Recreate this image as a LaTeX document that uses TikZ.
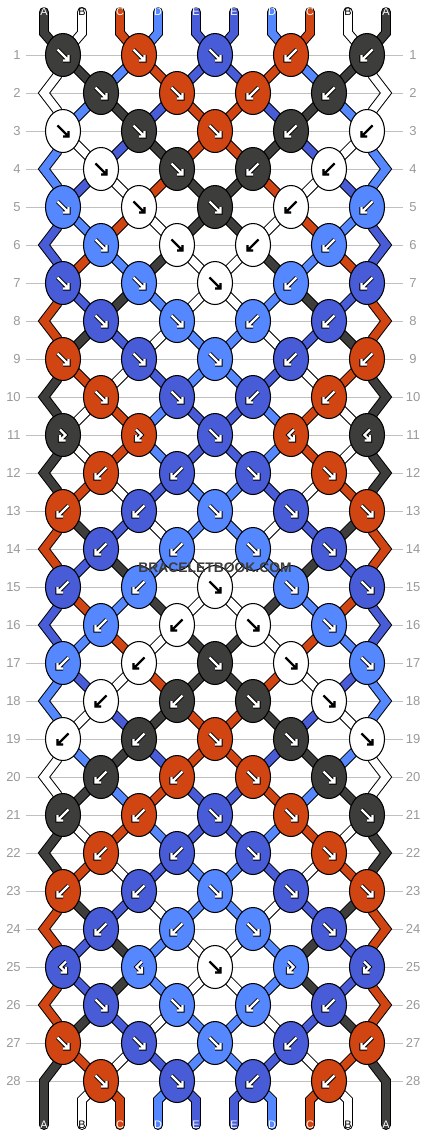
\documentclass[tikz,border=0pt]{standalone}
\usepackage{fontspec}
\setmainfont{Liberation Sans}
\usetikzlibrary{shapes.geometric,calc}

\definecolor{thrk}{HTML}{3D3D3B}
\definecolor{thrw}{HTML}{FFFFFF}
\definecolor{thro}{HTML}{D14512}
\definecolor{thrl}{HTML}{5588FF}
\definecolor{thrb}{HTML}{475CD6}
\definecolor{rowgrey}{HTML}{C0C0C0}
\definecolor{numgrey}{HTML}{999999}

\pgfdeclarelayer{grid}
\pgfdeclarelayer{strands}
\pgfsetlayers{grid,strands,main}

\begin{document}
\begin{tikzpicture}[x=0.02cm, y=-0.02cm,
    knot/.style={draw, ellipse, line width=0.6pt, minimum width=0.7cm, minimum height=0.86cm, inner sep=0pt},
    strand/.style={line width=0.57pt, double=#1, double distance=4.5pt},
    endstrand/.style={strand=#1, line cap=round},
    rownum/.style={text=numgrey, font=\fontsize{7.4pt}{8pt}\selectfont, inner xsep=2.8pt, inner ysep=1pt},
    rowline/.style={draw=rowgrey, line width=0.57pt},
    lbl/.style={font=\fontsize{6.2pt}{7pt}\selectfont, inner sep=0pt},
    wmark/.style={font=\fontsize{7.9pt}{8pt}\selectfont\bfseries, text=thrk}]
  \useasboundingbox (0,0) rectangle (430,1136);

  % row numbers
  \foreach \r in {1,...,28} {
    \node[rownum, anchor=east] (nl-\r) at (26,{55+38*(\r-1)}) {\r};
    \node[rownum] (nr-\r) at (413,{55+38*(\r-1)}) {\r};
    \begin{pgfonlayer}{grid}
      \draw[rowline] (nl-\r.east) -- ($(nr-\r)+(-10,0)$);
    \end{pgfonlayer}
  }

  % edge points
  \foreach \r in {2,4,...,28} {
    \coordinate (e-\r-L) at (44,{55+38*(\r-1)});
    \coordinate (e-\r-R) at (386,{55+38*(\r-1)});
  }

  % knots: colour / first turn / second turn
  \foreach \r/\ks in {
      1/{k/1/1,o/1/1,b/1/1,o/-1/-1,k/-1/-1},
      2/{k/1/1,o/1/1,o/-1/-1,k/-1/-1},
      3/{w/1/1,k/1/1,o/1/1,k/-1/-1,w/-1/-1},
      4/{w/1/1,k/1/1,k/-1/-1,w/-1/-1},
      5/{l/1/1,w/1/1,k/1/1,w/-1/-1,l/-1/-1},
      6/{l/1/1,w/1/1,w/-1/-1,l/-1/-1},
      7/{b/1/1,l/1/1,w/1/1,l/-1/-1,b/-1/-1},
      8/{b/1/1,l/1/1,l/-1/-1,b/-1/-1},
      9/{o/1/1,b/1/1,l/1/1,b/-1/-1,o/-1/-1},
      10/{o/1/1,b/1/1,b/-1/-1,o/-1/-1},
      11/{k/1/-1,o/1/-1,b/1/1,o/-1/1,k/-1/1},
      12/{o/-1/-1,b/-1/-1,b/1/1,o/1/1},
      13/{o/-1/-1,b/-1/-1,l/1/1,b/1/1,o/1/1},
      14/{b/-1/-1,l/-1/-1,l/1/1,b/1/1},
      15/{b/-1/-1,l/-1/-1,w/1/1,l/1/1,b/1/1},
      16/{l/-1/-1,w/-1/-1,w/1/1,l/1/1},
      17/{l/-1/-1,w/-1/-1,k/1/1,w/1/1,l/1/1},
      18/{w/-1/-1,k/-1/-1,k/1/1,w/1/1},
      19/{w/-1/-1,k/-1/-1,o/1/1,k/1/1,w/1/1},
      20/{k/-1/-1,o/-1/-1,o/1/1,k/1/1},
      21/{k/-1/-1,o/-1/-1,b/1/1,o/1/1,k/1/1},
      22/{o/-1/-1,b/-1/-1,b/1/1,o/1/1},
      23/{o/-1/-1,b/-1/-1,l/1/1,b/1/1,o/1/1},
      24/{b/-1/-1,l/-1/-1,l/1/1,b/1/1},
      25/{b/-1/1,l/-1/1,w/1/1,l/1/-1,b/1/-1},
      26/{b/1/1,l/1/1,l/-1/-1,b/-1/-1},
      27/{o/1/1,b/1/1,l/1/1,b/-1/-1,o/-1/-1},
      28/{o/1/1,b/1/1,b/-1/-1,o/-1/-1}} {
    \pgfmathsetmacro{\xo}{isodd(\r) ? 63 : 101}
    \foreach \c/\sa/\sb [count=\j] in \ks {
      \node[knot, fill=thr\c] (k-\r-\j) at ({\xo+76*(\j-1)},{55+38*(\r-1)}) {};
      \pgfmathsetmacro{\ox}{1.25*((\sa)-(\sb))}
      \pgfmathsetmacro{\xa}{\ox-5.5*(\sa)}
      \pgfmathsetmacro{\xc}{\ox+5.5*(\sb)}
      \pgfmathsetmacro{\xh}{\xc-5.5*(\sb)}
      \if\c w\def\ac{black}\def\aw{0.3pt}\def\ad{0.75pt}\else\def\ac{white}\def\aw{0.55pt}\def\ad{1.3pt}\fi
      \draw[line width=\aw, double=\ac, double distance=\ad, shift={(k-\r-\j.center)}]
        (\xa,-5.5) -- (\ox,0) -- (\xc,5.5) (\xh,5.5) -- (\xc,5.5) -- (\xc,0);
    }
  }

  % thread ends
  \foreach \l/\c [count=\p] in {A/k,B/w,C/o,D/l,E/b,E/b,D/l,C/o,B/w,A/k} {
    \if\c w\def\tc{black}\else\def\tc{white}\fi
    \node[lbl, text=\tc] (t-\p) at ({6+38*\p},12) {\l};
    \node[lbl, text=\tc] (u-\p) at ({6+38*\p},1125) {\l};
  }

  \begin{pgfonlayer}{strands}
    % threads between knots
    \foreach \r/\s in {
        1/{w,k,l,o,b,b,o,l,k,w},
        2/{w,l,k,b,o,o,b,k,l,w},
        3/{l,w,b,k,o,o,k,b,w,l},
        4/{l,b,w,o,k,k,o,w,b,l},
        5/{b,l,o,w,k,k,w,o,l,b},
        6/{b,o,l,k,w,w,k,l,o,b},
        7/{o,b,k,l,w,w,l,k,b,o},
        8/{o,k,b,w,l,l,w,b,k,o},
        9/{k,o,w,b,l,l,b,w,o,k},
        10/{k,w,o,l,b,b,l,o,w,k},
        11/{k,w,o,l,b,b,l,o,w,k},
        12/{k,o,w,b,l,l,b,w,o,k},
        13/{o,k,b,w,l,l,w,b,k,o},
        14/{o,b,k,l,w,w,l,k,b,o},
        15/{b,o,l,k,w,w,k,l,o,b},
        16/{b,l,o,w,k,k,w,o,l,b},
        17/{l,b,w,o,k,k,o,w,b,l},
        18/{l,w,b,k,o,o,k,b,w,l},
        19/{w,l,k,b,o,o,b,k,l,w},
        20/{w,k,l,o,b,b,o,l,k,w},
        21/{k,w,o,l,b,b,l,o,w,k},
        22/{k,o,w,b,l,l,b,w,o,k},
        23/{o,k,b,w,l,l,w,b,k,o},
        24/{o,b,k,l,w,w,l,k,b,o},
        25/{o,b,k,l,w,w,l,k,b,o},
        26/{o,k,b,w,l,l,w,b,k,o},
        27/{k,o,w,b,l,l,b,w,o,k}} {
      \pgfmathtruncatemacro{\rn}{\r+1}
      \foreach \c [count=\p] in \s {
        \ifnum\p>1 \ifnum\p<10
          \pgfmathtruncatemacro{\ja}{isodd(\r) ? (\p+1)/2 : \p/2}
          \pgfmathtruncatemacro{\jb}{isodd(\rn) ? (\p+1)/2 : \p/2}
          \draw[strand=thr\c] (k-\r-\ja.center) -- (k-\rn-\jb.center);
        \fi\fi
      }
    }

    % threads round the edges
    \foreach \r/\c in {2/w,4/l,6/b,8/o,10/k,12/k,14/o,16/b,18/l,20/w,22/k,24/o,26/o} {
      \pgfmathtruncatemacro{\ra}{\r-1}
      \pgfmathtruncatemacro{\rb}{\r+1}
      \draw[strand=thr\c] (k-\ra-1.center) -- ++(-6,21) -- (e-\r-L)
        -- ($(k-\rb-1.center)+(-6,-21)$) -- (k-\rb-1.center);
      \draw[strand=thr\c] (k-\ra-5.center) -- ++(6,21) -- (e-\r-R)
        -- ($(k-\rb-5.center)+(6,-21)$) -- (k-\rb-5.center);
    }

    % top and bottom ends
    \foreach \c [count=\p] in {k,w,o,l,b,b,l,o,w,k} {
      \pgfmathtruncatemacro{\j}{(\p+1)/2}
      \draw[endstrand=thr\c] (t-\p.center) -- ++(0,21) -- (k-1-\j.center);
    }
    \foreach \c [count=\p from 2] in {w,o,l,b,b,l,o,w} {
      \pgfmathtruncatemacro{\j}{\p/2}
      \draw[endstrand=thr\c] (k-28-\j.center) -- ($(u-\p.center)+(0,-25)$) -- (u-\p.center);
    }
    \draw[endstrand=thrk] (k-27-1.center) -- ++(-6,21) -- (e-28-L) -- (u-1.center);
    \draw[endstrand=thrk] (k-27-5.center) -- ++(6,21) -- (e-28-R) -- (u-10.center);
  \end{pgfonlayer}

  \node[wmark] (wm) at (215,568) {BRACELETBOOK.COM};
\end{tikzpicture}
\end{document}
